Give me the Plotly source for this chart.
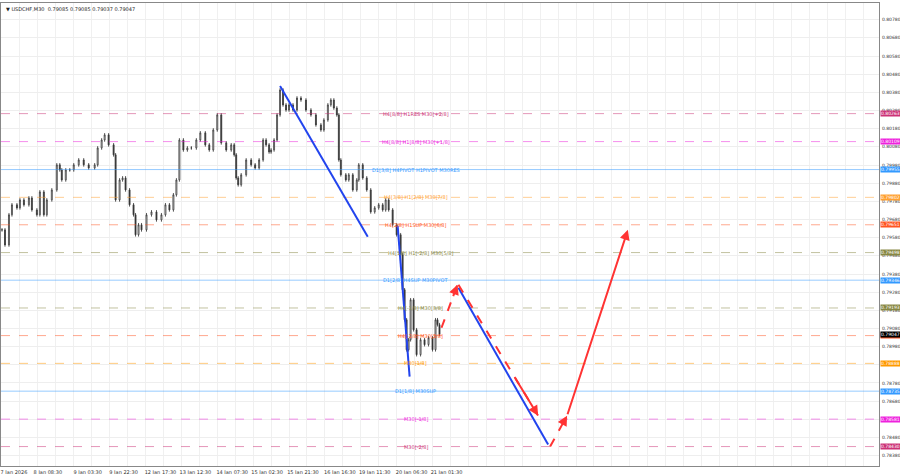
import plotly.graph_objects as go

# bar position (chart units) and closing prices
bar_x = [0,3,7,10,15,18,22,27,30,35,38,42,45,50,55,58,60,64,68,72,77,82,87,93,96,100,103,107,112,114,118,121,124,128,132,134,137,140,145,150,155,160,164,168,172,175,178,182,186,190,195,199,204,208,212,216,220,225,230,233,235,237,240,245,250,254,258,262,265,268,270,273,276,279,282,285,288,292,296,300,305,310,315,320,323,327,330,333,336,338,340,345,348,352,356,358,362,366,370,374,378,382,385,388,392,396,400,402,404,406,408,410,413,416,420,424,428,432,435,437,439]
closes = [0.79623,0.79540,0.79706,0.79761,0.79744,0.79788,0.79761,0.79799,0.79733,0.79706,0.79832,0.79706,0.79788,0.79843,0.79981,0.79953,0.79898,0.79953,0.79953,0.79981,0.80008,0.79981,0.79964,0.79981,0.80074,0.80118,0.80146,0.80091,0.80036,0.79788,0.79898,0.79909,0.79843,0.79761,0.79706,0.79596,0.79651,0.79623,0.79706,0.79722,0.79678,0.79706,0.79761,0.79733,0.79816,0.79898,0.80118,0.80063,0.80074,0.80074,0.80118,0.80157,0.80091,0.80063,0.80173,0.80256,0.80102,0.80063,0.80091,0.80036,0.79909,0.79871,0.79926,0.80008,0.79981,0.79964,0.80008,0.80118,0.80091,0.80052,0.80063,0.80118,0.80256,0.80393,0.80311,0.80283,0.80311,0.80283,0.80349,0.80338,0.80283,0.80256,0.80201,0.80173,0.80228,0.80311,0.80338,0.80294,0.80256,0.80008,0.79926,0.79898,0.79926,0.79843,0.79898,0.79981,0.79909,0.79843,0.79722,0.79744,0.79761,0.79733,0.79788,0.79733,0.79651,0.79596,0.79486,0.79293,0.79128,0.78963,0.79018,0.79238,0.79073,0.78936,0.79018,0.78991,0.79029,0.78963,0.79128,0.79101,0.79047]
wick = 0.00010

levels = [0.80263,0.80109,0.79955,0.79802,0.79651,0.79498,0.79346,0.79193,0.79041,0.78888,0.78735,0.78581,0.78430]
level_labels = ["H4[8/8] H1RES M30[+2/8]","H4[8/8] H1[8/8] M30[+1/8]","D1[3/8] H4PIVOT H1PIVOT M30RES",
                "H4[3/8] H1[2/8] M30[7/8]","H4[2/8] H1SUP M30[6/8]","H4[1/8] H1[-2/8] M30[5/8]",
                "D1[2/8] H4SUP M30PIVOT","H4[-1/8] M30[3/8]","H4[-2/8] M30[2/8]","M30[1/8]",
                "D1[1/8] M30SUP","M30[-1/8]","M30[-2/8]"]
level_colors = ["#cc3377","#ee22dd","#3399ff","#ffa030","#ff5522","#888844","#3399ff","#888844","#ff5522","#ff9900","#3399ff","#ee22dd","#cc3377"]
level_dash = ["dash","dash","solid","dash","dash","dash","solid","dash","dash","dash","solid","dash","dash"]
label_x = [415,415,415,415,415,420,415,420,420,415,415,415,415]

tick_pos = [12,46,86,122,159,194,231,266,302,339,374,411,446]
tick_text = ["7 Jan 2026","8 Jan 08:30","9 Jan 03:30","9 Jan 22:30","12 Jan 17:30","13 Jan 12:30","14 Jan 07:30",
             "15 Jan 02:30","15 Jan 21:30","16 Jan 16:30","19 Jan 11:30","20 Jan 06:30","21 Jan 01:30"]

# projection lines: (x0, y0, x1, y1)
blue_lines = [(279,0.80415,367,0.79585),(397,0.79645,409,0.78815),(458,0.79304,548,0.78441)]
red_dashed = [(441,0.79084,457,0.79321),(458,0.79321,538,0.78600),(550,0.78430,567,0.78600)]
red_solid = [(567,0.78600,628,0.79623)]

opens = [closes[0]] + closes[:-1]
highs = [max(o, c) + wick for o, c in zip(opens, closes)]
lows = [min(o, c) - wick for o, c in zip(opens, closes)]

fig = go.Figure()
fig.add_trace(go.Candlestick(x=bar_x, open=opens, high=highs, low=lows, close=closes,
    increasing=dict(line=dict(color="#333333", width=0.8), fillcolor="#ffffff"),
    decreasing=dict(line=dict(color="#333333", width=0.8), fillcolor="#333333"),
    whiskerwidth=0, showlegend=False, hoverinfo="skip"))

for lv, lab, col, ds, lx in zip(levels, level_labels, level_colors, level_dash, label_x):
    fig.add_shape(type="line", xref="paper", x0=0, x1=1, y0=lv, y1=lv,
                  line=dict(color=col, width=1, dash=ds), opacity=0.5)
    fig.add_annotation(x=lx, y=lv, text=lab, showarrow=False, font=dict(size=5, color=col),
                       xanchor="center", yanchor="middle")
    fig.add_annotation(xref="paper", x=1.001, y=lv, text=f"{lv:.5f}", showarrow=False,
                       font=dict(size=4.5, color="white"), bgcolor=col, xanchor="left", borderpad=0)
fig.add_annotation(xref="paper", x=1.001, y=closes[-1], text=f"{closes[-1]:.5f}", showarrow=False,
                   font=dict(size=4.5, color="white"), bgcolor="#000000", xanchor="left", borderpad=0)

for x0, y0, x1, y1 in blue_lines:
    fig.add_shape(type="line", x0=x0, y0=y0, x1=x1, y1=y1, line=dict(color="#2244ee", width=2))
for x0, y0, x1, y1 in red_dashed:
    fig.add_shape(type="line", x0=x0, y0=y0, x1=x1, y1=y1, line=dict(color="#ff3333", width=2, dash="dash"))
    fig.add_annotation(x=x1, y=y1, ax=x1 - (x1 - x0) * 0.3, ay=y1 - (y1 - y0) * 0.3, axref="x", ayref="y",
                       showarrow=True, text="", arrowhead=2, arrowsize=1, arrowwidth=2, arrowcolor="#ff3333")
for x0, y0, x1, y1 in red_solid:
    fig.add_annotation(x=x1, y=y1, ax=x0, ay=y0, axref="x", ayref="y", showarrow=True, text="",
                       arrowhead=2, arrowsize=1, arrowwidth=2, arrowcolor="#ff3333")

fig.add_annotation(xref="paper", yref="paper", x=0.003, y=0.998, text="▼ USDCHF,M30  0.79085 0.79085 0.79037 0.79047",
                   showarrow=False, font=dict(size=5, color="#222222"), xanchor="left", yanchor="top")

fig.update_layout(width=900, height=474, margin=dict(l=1, r=21, t=3, b=8, autoexpand=False),
    paper_bgcolor="white", plot_bgcolor="white", font=dict(family="DejaVu Sans"),
    xaxis=dict(range=[-1, 880], tickvals=tick_pos, ticktext=tick_text, tickfont=dict(size=5, color="#333333"),
               rangeslider=dict(visible=False), showgrid=False, automargin=False,
               minor=dict(dtick=18, tick0=0, showgrid=True, gridcolor="#f0f0f0"),
               showline=True, linecolor="#888888", mirror=True, zeroline=False, ticks="", ticklabelstandoff=1),
    yaxis=dict(range=[0.78323, 0.80872], side="right", dtick=0.001, tick0=0.78380, tickformat=".5f",
               tickfont=dict(size=4.5, color="#333333"), showgrid=True, gridcolor="#eeeeee", automargin=False,
               showline=True, linecolor="#888888", mirror=True, zeroline=False, ticklabelstandoff=1))

fig.write_html("out.html", config={"displayModeBar": False},
               post_script="document.body.style.margin='0';document.body.style.overflow='hidden';")
